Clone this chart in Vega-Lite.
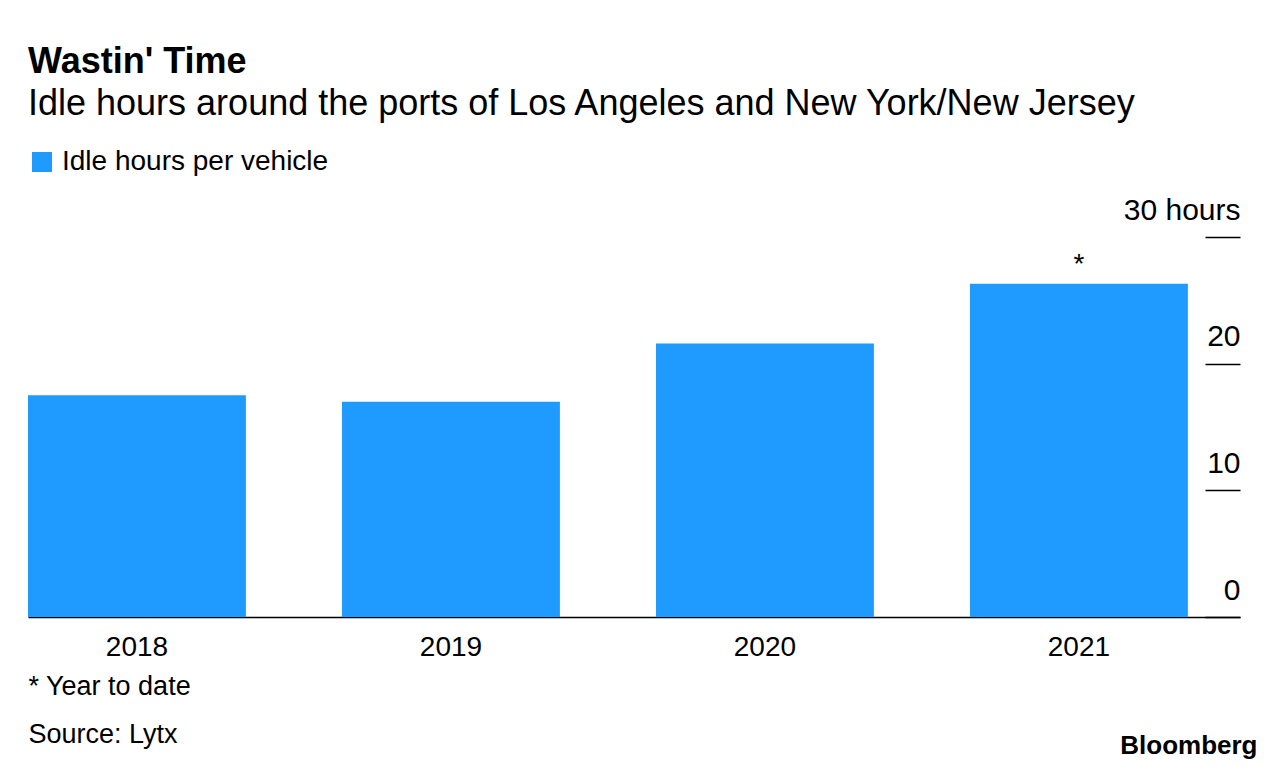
{
  "$schema": "https://vega.github.io/schema/vega-lite/v6.json",
  "autosize": {"type": "none"},
  "width": 1212,
  "height": 380,
  "padding": {"left": 28, "top": 237, "right": 46, "bottom": 155},
  "background": "white",
  "config": {"font": "Liberation Sans", "view": {"stroke": null}, "axis": {"grid": false}},
  "title": {
    "text": "Wastin' Time",
    "subtitle": "Idle hours around the ports of Los Angeles and New York/New Jersey",
    "anchor": "start",
    "frame": "group",
    "fontSize": 36,
    "fontWeight": "bold",
    "color": "black",
    "subtitleFontSize": 36,
    "subtitleColor": "black",
    "subtitlePadding": 6,
    "offset": 25
  },
  "data": {
    "values": [
      {"year": "2018", "hours": 17.5, "note": ""},
      {"year": "2019", "hours": 17.0, "note": ""},
      {"year": "2020", "hours": 21.6, "note": ""},
      {"year": "2021", "hours": 26.3, "note": "*"}
    ]
  },
  "encoding": {
    "x": {
      "field": "year",
      "type": "ordinal",
      "scale": {"paddingInner": 0.306, "paddingOuter": 0.083, "align": 0},
      "axis": {
        "title": ["* Year to date", "Source: Lytx"],
        "titleAnchor": "start",
        "titleAlign": "left",
        "titleX": 0,
        "titleY": 77,
        "titleBaseline": "alphabetic",
        "titleFontSize": 27,
        "titleFontWeight": "normal",
        "titleLineHeight": 48,
        "titleColor": "black",
        "labelAngle": 0,
        "labelFontSize": 28,
        "labelColor": "black",
        "labelBaseline": "alphabetic",
        "labelPadding": 38,
        "ticks": false,
        "tickSize": 0,
        "domainColor": "black",
        "domainWidth": 1.5
      }
    },
    "y": {
      "field": "hours",
      "type": "quantitative",
      "scale": {"domain": [0, 30], "nice": false},
      "axis": {
        "orient": "right",
        "offset": -35,
        "values": [0, 10, 20, 30],
        "tickSize": 35,
        "tickColor": "black",
        "tickWidth": 1.5,
        "domain": false,
        "labelAlign": "right",
        "labelBaseline": "alphabetic",
        "labelOffset": -18,
        "labelPadding": 0,
        "labelFlush": false,
        "labelFontSize": 30,
        "labelColor": "black",
        "labelExpr": "datum.value == 30 ? '30 hours' : datum.label",
        "title": "Bloomberg",
        "titleAngle": 0,
        "titleX": 52,
        "titleY": 516,
        "titleAlign": "right",
        "titleBaseline": "alphabetic",
        "titleFontSize": 26,
        "titleFontWeight": "bold",
        "titleColor": "black"
      }
    }
  },
  "layer": [
    {
      "mark": {"type": "bar"},
      "encoding": {
        "color": {
          "datum": "Idle hours per vehicle",
          "type": "nominal",
          "scale": {"range": ["#1f9bff"]},
          "legend": {
            "orient": "none",
            "legendX": 0,
            "legendY": -89,
            "title": null,
            "symbolType": "square",
            "symbolSize": 400,
            "symbolStrokeWidth": 0,
            "symbolOpacity": 1,
            "labelFontSize": 28,
            "labelColor": "black",
            "labelOffset": 6,
            "labelLimit": 0,
            "padding": 0
          }
        }
      }
    },
    {
      "mark": {"type": "text", "baseline": "alphabetic", "dy": -11, "fontSize": 28, "color": "black"},
      "encoding": {"text": {"field": "note"}}
    }
  ]
}
